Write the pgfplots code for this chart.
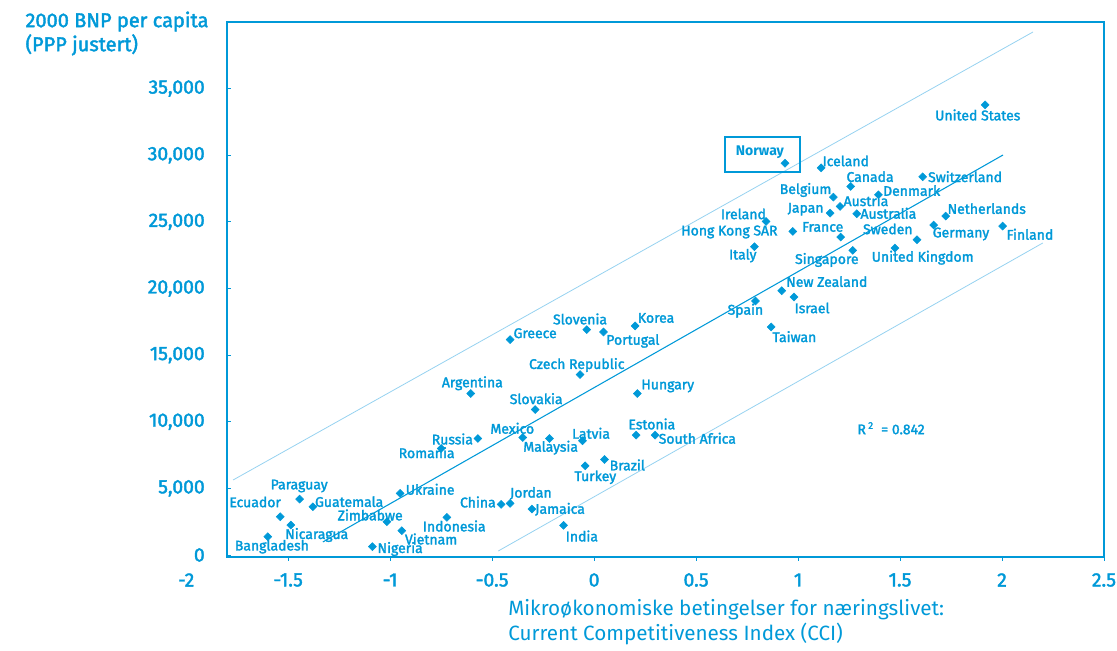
\documentclass[border=0pt]{standalone}
\usepackage{fontspec}
\setmainfont{Fira Sans}
\newfontfamily\medfont[FakeBold=2]{Fira Sans}
\usepackage{pgfplots}
\usepackage{pgfplotstable}
\pgfplotsset{compat=1.18}
\definecolor{cblue}{RGB}{0,153,216}
\definecolor{lblue}{RGB}{150,210,240}
\newcommand\lab{\medfont\fontsize{10.5}{12}\selectfont}

% CCI (x) vs GNP per capita 2000, PPP (y)
\pgfplotstableread{
x      y
1.917  33780
0.936  29403
1.113  29057
1.258  27657
1.611  28382
1.394  27032
1.173  26856
1.206  26158
1.157  25657
1.288  25608
0.843  25033
0.974  24284
1.209  23860
1.724  25433
1.665  24760
2.003  24684
1.583  23660
1.475  23035
1.268  22860
0.786  23134
0.920  19836
0.980  19362
0.791  19062
0.868  17113
-0.412 16164
-0.036 16914
0.046  16739
0.201  17189
-0.069 13540
-0.605 12117
0.212  12117
-0.289 10917
-0.350 8818
-0.570 8743
-0.750 7994
-0.219 8743
-0.057 8569
0.206  8994
0.299  8994
0.051  7170
-0.044 6695
-0.951 4622
-1.444 4197
-1.379 3622
-1.539 2873
-1.487 2249
-1.600 1374
-1.016 2498
-0.943 1824
-1.087 625
-0.722 2823
-0.456 3797
-0.412 3872
-0.305 3448
-0.150 2224
}\ccidata

\begin{document}
\begin{tikzpicture}
\begin{axis}[
  scale only axis,
  width=657.75pt, height=401.25pt,
  xmin=-1.8, xmax=2.5, ymin=-150, ymax=40000,
  axis line style={cblue, line width=2.2pt},
  xtick={-1.5,-1,...,2.5},
  ytick={0,5000,...,35000},
  xtick pos=bottom, ytick pos=left,
  tick align=inside, major tick length=3pt,
  tick style={cblue, line width=0.6pt},
  x tick style={yshift=-3pt},
  scaled y ticks=false,
  /pgf/number format/assume math mode=true,
  yticklabel style={/pgf/number format/1000 sep={,}, anchor=east, inner sep=0pt, xshift=-16.5pt},
  xticklabel style={anchor=center, yshift=-17.25pt},
  ticklabel style={font=\medfont\fontsize{14.5}{16}\selectfont, text=cblue},
  clip=false,
]
\coordinate (bl) at (rel axis cs:0,0);
\coordinate (tr) at (rel axis cs:1,1);

% regression line and bands
\addplot[lblue, line width=0.6pt] coordinates {(-1.77,5629) (2.152,39251)};
\addplot[cblue, line width=0.8pt] coordinates {(-1.33,976) (2.005,30020)};
\addplot[lblue, line width=0.6pt] coordinates {(-0.47,300) (2.2,23416)};

\addplot[only marks, mark=square*, mark size=2.1pt, color=cblue,
  mark options={rotate=45}] table[x=x, y=y] {\ccidata};

\begin{scope}[every node/.style={text=cblue, font=\lab, inner sep=0pt}]
\node at (axis cs:1.881,33022) {United States};
\node[font=\fontsize{10.5}{12}\selectfont\bfseries] at (axis cs:0.813,30193) {Norway};
\node at (axis cs:1.234,29570) {Iceland};
\node at (axis cs:1.353,28391) {Canada};
\node at (axis cs:1.819,28391) {Switzerland};
\node at (axis cs:1.557,27341) {Denmark};
\node at (axis cs:1.037,27393) {Belgium};
\node at (axis cs:1.333,26590) {Austria};
\node at (axis cs:1.037,25945) {Japan};
\node at (axis cs:1.443,25645) {Australia};
\node at (axis cs:0.732,25592) {Ireland};
\node at (axis cs:0.663,24241) {Hong Kong SAR};
\node at (axis cs:1.121,24616) {France};
\node at (axis cs:1.440,24466) {Sweden};
\node at (axis cs:1.925,25990) {Netherlands};
\node at (axis cs:1.799,24091) {Germany};
\node at (axis cs:2.137,24069) {Finland};
\node at (axis cs:1.141,22140) {Singapore};
\node at (axis cs:1.611,22312) {United Kingdom};
\node at (axis cs:0.729,22462) {Italy};
\node at (axis cs:1.141,20511) {New Zealand};
\node at (axis cs:1.069,18537) {Israel};
\node at (axis cs:0.742,18335) {Spain};
\node at (axis cs:0.982,16383) {Taiwan};
\node at (axis cs:-0.289,16639) {Greece};
\node at (axis cs:-0.069,17712) {Slovenia};
\node at (axis cs:0.304,17787) {Korea};
\node at (axis cs:0.190,16061) {Portugal};
\node at (axis cs:-0.085,14260) {Czech Republic};
\node at (axis cs:-0.597,12886) {Argentina};
\node at (axis cs:0.361,12683) {Hungary};
\node at (axis cs:-0.284,11730) {Slovakia};
\node at (axis cs:-0.401,9509) {Mexico};
\node at (axis cs:-0.695,8706) {Russia};
\node at (axis cs:-0.821,7678) {Romania};
\node at (axis cs:-0.213,8053) {Malaysia};
\node at (axis cs:-0.015,9134) {Latvia};
\node at (axis cs:0.283,9832) {Estonia};
\node at (axis cs:0.506,8758) {South Africa};
\node at (axis cs:0.163,6755) {Brazil};
\node at (axis cs:0.006,5831) {Turkey};
\node at (axis cs:-0.804,4931) {Ukraine};
\node at (axis cs:-1.446,5178) {Paraguay};
\node at (axis cs:-1.662,3978) {Ecuador};
\node at (axis cs:-1.201,4000) {Guatemala};
\node at (axis cs:-1.098,3002) {Zimbabwe};
\node at (axis cs:-1.360,1501) {Nicaragua};
\node at (axis cs:-1.580,623) {Bangladesh};
\node at (axis cs:-0.686,2176) {Indonesia};
\node at (axis cs:-0.799,1201) {Vietnam};
\node at (axis cs:-0.951,450) {Nigeria};
\node at (axis cs:-0.570,3978) {China};
\node at (axis cs:-0.310,4631) {Jordan};
\node at (axis cs:-0.167,3430) {Jamaica};
\node at (axis cs:-0.060,1426) {India};
\node at (axis cs:1.456,9509) {R\,\textsuperscript{2}\ \ = 0.842};
\end{scope}

\draw[cblue, line width=1.9pt] (axis cs:0.642,31371) rectangle (axis cs:1.010,28744);

\node[text=cblue, font=\medfont\fontsize{14.5}{16}\selectfont, inner sep=0pt, anchor=center, yshift=-17.25pt] at (axis cs:-2,-150) {-2};

\node[anchor=north west, align=left, inner sep=0pt, text=cblue,
  font=\medfont\fontsize{15}{18}\selectfont] at (axis cs:-2.789,40800)
  {2000 BNP per capita\\(PPP justert)};
\node[anchor=north west, align=left, inner sep=0pt, text=cblue,
  font=\fontsize{15.5}{18.75}\selectfont] at (axis cs:-0.422,-3300)
  {Mikroøkonomiske betingelser for næringslivet:\\Current Competitiveness Index (CCI)};
\end{axis}
\pgfresetboundingbox
\path[use as bounding box] ([shift={(-170.25pt,-70.5pt)}]bl) rectangle ([shift={(9.75pt,16.5pt)}]tr);
\end{tikzpicture}
\end{document}
